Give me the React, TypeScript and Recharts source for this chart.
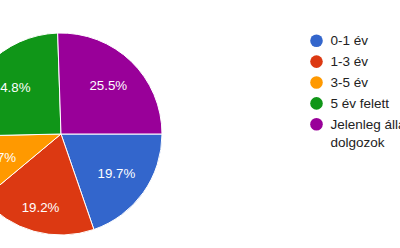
import { PieChart, Pie, Cell, Customized } from "recharts";

const categories = ["0-1 év", "1-3 év", "3-5 év", "5 év felett", "Jelenleg állásban dolgozok"];
const shares = [19.7, 19.2, 10.7, 24.8, 25.5];
const colors = ["#3366cc", "#dc3912", "#ff9900", "#109618", "#990099"];

const data = categories.map((name, i) => ({ name, value: shares[i] }));

const FONT = "Arial, 'Liberation Sans', sans-serif";
const RAD = Math.PI / 180;

const renderLabel = (props: any) => {
  const { cx, cy, midAngle, percent, index } = props;
  // the bottom slice's label sits a bit further out in the original
  const r = index === 1 ? 76 : 68;
  const x = cx + r * Math.cos(-midAngle * RAD);
  const y = cy + r * Math.sin(-midAngle * RAD);
  return (
    <text
      x={x}
      y={y}
      fill="#ffffff"
      fontSize={13.3}
      fontFamily={FONT}
      textAnchor="middle"
      dominantBaseline="central"
    >
      {(percent * 100).toFixed(1)}%
    </text>
  );
};

// legend drawn on the right, like google forms
const LegendBlock = () => (
  <g fontFamily={FONT} fontSize={13.5} fill="#222222">
    {categories.map((name, i) => {
      const y = 40.7 + i * 20.9;
      const lines = name === "Jelenleg állásban dolgozok" ? ["Jelenleg állásban", "dolgozok"] : [name];
      return (
        <g key={name}>
          <circle cx={316.5} cy={y} r={6.3} fill={colors[i]} />
          {lines.map((ln, j) => (
            <text key={j} x={330.5} y={y + j * 18.5} dominantBaseline="central">
              {ln}
            </text>
          ))}
        </g>
      );
    })}
  </g>
);

export default function App() {
  return (
    <div style={{ position: "absolute", left: 0, top: 0, width: 400, height: 248, background: "#fff" }}>
      <PieChart width={400} height={248} margin={{ top: 0, right: 0, bottom: 0, left: 0 }}>
        <Pie
          data={data}
          dataKey="value"
          cx={61}
          cy={134}
          outerRadius={101}
          startAngle={0}
          endAngle={-360}
          stroke="#ffffff"
          strokeWidth={1}
          label={renderLabel}
          labelLine={false}
          isAnimationActive={false}
        >
          {data.map((d, i) => (
            <Cell key={d.name} fill={colors[i]} />
          ))}
        </Pie>
        <Customized component={LegendBlock} />
      </PieChart>
    </div>
  );
}
